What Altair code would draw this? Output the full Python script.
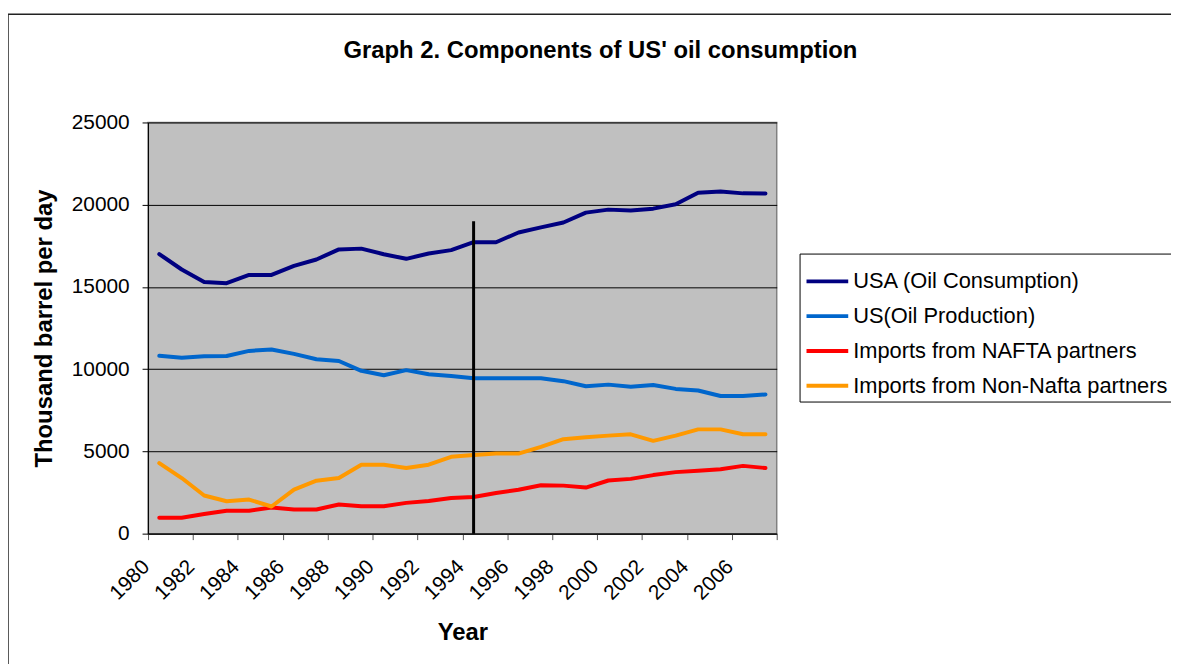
import altair as alt
import pandas as pd

years = list(range(1980, 2008))
usa_consumption = [17000, 16060, 15300, 15230, 15730, 15730, 16280, 16670, 17280, 17330,
                   16990, 16710, 17030, 17240, 17720, 17720, 18310, 18620, 18920, 19520,
                   19700, 19650, 19760, 20030, 20730, 20800, 20690, 20680]
us_production = [10810, 10700, 10780, 10800, 11110, 11200, 10930, 10600, 10500, 9900,
                 9630, 9940, 9690, 9580, 9450, 9450, 9450, 9450, 9270, 8960,
                 9060, 8930, 9040, 8800, 8700, 8370, 8370, 8460]
nafta_imports = [970, 970, 1190, 1390, 1390, 1590, 1470, 1470, 1770, 1670,
                 1670, 1870, 1990, 2170, 2230, 2470, 2670, 2940, 2920, 2800,
                 3230, 3330, 3560, 3740, 3820, 3920, 4120, 3990]
non_nafta_imports = [4290, 3380, 2320, 1970, 2070, 1650, 2680, 3220, 3380, 4190,
                     4190, 3990, 4190, 4670, 4780, 4870, 4870, 5270, 5740, 5860,
                     5960, 6040, 5640, 5960, 6340, 6340, 6040, 6040]

series_names = ["USA (Oil Consumption)", "US(Oil Production)",
                "Imports from NAFTA partners", "Imports from Non-Nafta partners"]
series_colors = ["#000080", "#0066CC", "#FF0000", "#FF9900"]
marker_year = [1994]
marker_top = [19000]

rows = []
for name, vals in zip(series_names, [usa_consumption, us_production, nafta_imports, non_nafta_imports]):
    for y, v in zip(years, vals):
        rows.append({"Year": y, "Value": v, "Series": name, "Order": series_names.index(name)})
df = pd.DataFrame(rows)

marker_df = pd.DataFrame({"Year": marker_year, "Top": marker_top, "Bottom": [0]})
frame_df = pd.DataFrame({"a": [0]})

FONT = "Liberation Sans"

x_ticks = [1979.5 + k for k in range(29)]

x_enc = alt.X("Year:Q",
              scale=alt.Scale(domain=[1979.5, 2007.5], nice=False, zero=False),
              axis=alt.Axis(values=x_ticks, grid=False, title="Year",
                            labelExpr="(datum.value < 2007 && (datum.value + 0.5) % 2 == 0) ? toString(datum.value + 0.5) : ''",
                            labelAngle=-45, labelAlign="right", labelBaseline="middle",
                            labelPadding=24, labelOffset=-2, labelOverlap=False, labelFlush=False,
                            labelFontSize=21, labelFont=FONT, labelColor="#000",
                            tickSize=6, tickColor="#555", domainColor="#000", domainWidth=1,
                            titleFontSize=24, titleFont=FONT, titleFontWeight="bold", titleColor="#000",
                            titleY=100, titleBaseline="middle"))

y_enc = alt.Y("Value:Q",
              scale=alt.Scale(domain=[0, 25000], nice=False),
              axis=alt.Axis(values=[0, 5000, 10000, 15000, 20000, 25000], grid=True, format="d",
                            gridColor="#000", gridWidth=1, gridOpacity=1,
                            title="Thousand barrel per day",
                            labelFontSize=21, labelFont=FONT, labelColor="#000", labelPadding=13,
                            tickSize=6, tickColor="#000", domainColor="#000", domainWidth=1,
                            titleFontSize=24, titleFont=FONT, titleFontWeight="bold", titleColor="#000",
                            titleX=-104, titleY=207, titleAngle=-90, titleAlign="center", titleBaseline="middle"))

lines = alt.Chart(df).mark_line(strokeWidth=4, strokeJoin="round", strokeCap="round").encode(
    x=x_enc,
    y=y_enc,
    color=alt.Color("Series:N",
                    scale=alt.Scale(domain=series_names, range=series_colors),
                    sort=series_names,
                    legend=alt.Legend(title=None, orient="none", legendX=656, legendY=132,
                                      symbolType="stroke", symbolStrokeWidth=4, symbolSize=1764,
                                      labelFontSize=22, labelFont=FONT, labelColor="#000",
                                      labelLimit=600, labelOffset=3, rowPadding=1,
                                      padding=5, strokeColor="#000", fillColor="#fff")),
    order="Order:Q",
)

rule = alt.Chart(marker_df).mark_rule(color="#000", strokeWidth=3).encode(
    x="Year:Q", y="Bottom:Q", y2="Top:Q"
)

frame = alt.Chart(frame_df).mark_rect(fill=None, stroke="#222", strokeWidth=1.5).encode(
    x=alt.value(-141), x2=alt.value(1300), y=alt.value(-109), y2=alt.value(800)
)

chart = alt.layer(frame, lines, rule).properties(
    width=633, height=414,
    padding={"left": 141, "top": 113, "right": 397, "bottom": 129},
    autosize=alt.AutoSizeParams(type="none"),
    background="#ffffff",
    title=alt.TitleParams("Graph 2. Components of US' oil consumption",
                          fontSize=24, font=FONT, fontWeight="bold", color="#000",
                          anchor="middle", frame="group", dx=139, offset=0, dy=69,
                          baseline="alphabetic"),
).configure_view(fill="#C0C0C0", stroke="#808080", strokeWidth=1.5)

chart.save("out.html", embed_options={"renderer": "svg", "actions": False})
